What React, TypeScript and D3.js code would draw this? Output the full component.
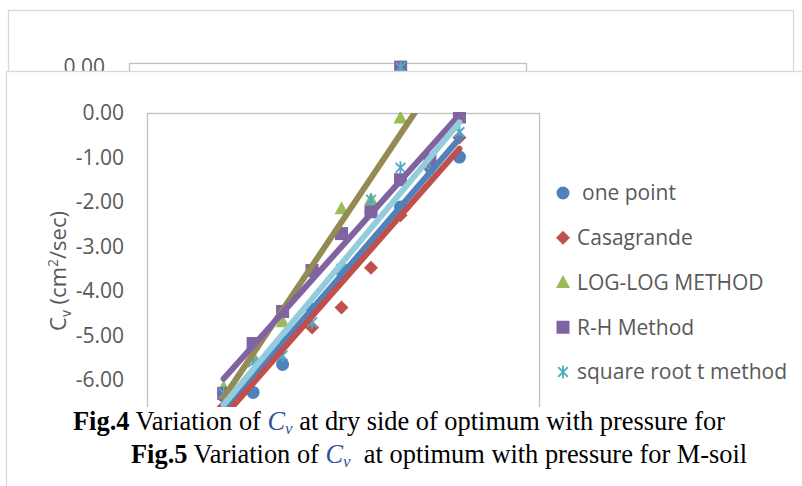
import React from "react";
import * as d3 from "d3";

// ---- data ----
const steps = [1, 2, 3, 4, 5, 6, 7, 8, 9];
const onePoint = [-6.36, -6.28, -5.65, -4.41, -3.55, -2.2, -2.11, -1.21, -0.99];
const casagrande = [-6.6, -5.89, -5.1, -4.82, -4.37, -3.48, -2.3, -1.21, -0.55];
const logLog = [-6.17, -5.47, -4.69, -3.5, -2.15, -1.95, -0.11, 0.55, 1.45];
const rhMethod = [-6.3, -5.18, -4.46, -3.54, -2.71, -2.22, -1.5, -1.05, -0.09];
const sqrtT = [-6.3, -5.6, -5.45, -4.7, -3.5, -1.95, -1.23, -1.29, -0.43];
const yTicks = [0, -1, -2, -3, -4, -5, -6];
const backSteps = [7.5];
const backRH = [-0.07];
const backSqrt = [-0.07];
const backTicks = [0];
const seriesNames = ["one point", "Casagrande", "LOG-LOG METHOD", "R-H Method", "square root t method"];

type Shape = "circle" | "diamond" | "triangle" | "square" | "asterisk";
const series: { name: string; values: number[]; marker: string; line: string; shape: Shape }[] = [
  { name: seriesNames[0], values: onePoint, marker: "#4F81BD", line: "#4F81BD", shape: "circle" },
  { name: seriesNames[1], values: casagrande, marker: "#C0504D", line: "#C0504D", shape: "diamond" },
  { name: seriesNames[2], values: logLog, marker: "#9BBB59", line: "#948A54", shape: "triangle" },
  { name: seriesNames[3], values: rhMethod, marker: "#8064A2", line: "#8064A2", shape: "square" },
  { name: seriesNames[4], values: sqrtT, marker: "#4BACC6", line: "#93CDDD", shape: "asterisk" },
];

function Marker({ shape, x, y, color }: { shape: Shape; x: number; y: number; color: string }) {
  switch (shape) {
    case "circle":
      return <circle cx={x} cy={y} r={6.5} fill={color} />;
    case "diamond":
      return <path d={`M${x},${y - 7}L${x + 7},${y}L${x},${y + 7}L${x - 7},${y}Z`} fill={color} />;
    case "triangle":
      return <path d={`M${x},${y - 7.5}L${x + 7},${y + 5.5}L${x - 7},${y + 5.5}Z`} fill={color} />;
    case "square":
      return <rect x={x - 6.5} y={y - 6.5} width={13} height={13} fill={color} />;
    case "asterisk": {
      const r = 6.5, d = r * 0.75;
      return (
        <path
          d={`M${x},${y - r}L${x},${y + r}M${x - d},${y - d}L${x + d},${y + d}M${x - d},${y + d}L${x + d},${y - d}`}
          stroke={color}
          strokeWidth={1.8}
          fill="none"
        />
      );
    }
  }
}

function regression(xs: number[], ys: number[]) {
  const mx = d3.mean(xs) as number;
  const my = d3.mean(ys) as number;
  let sxy = 0, sxx = 0;
  xs.forEach((x, i) => {
    sxy += (x - mx) * (ys[i] - my);
    sxx += (x - mx) * (x - mx);
  });
  const slope = sxy / sxx;
  return (x: number) => my + slope * (x - mx);
}

export default function App() {
  const W = 802, H = 486;
  const font = "'Open Sans', sans-serif";
  const serif = "'Liberation Serif', 'Times New Roman', serif";
  const grey = "#595959";

  // front chart
  const plot = { left: 147, right: 539, top: 113, bottom: 424.5 };
  const x = d3.scaleLinear().domain([-1.6, 11.7]).range([plot.left, plot.right]);
  const y = d3.scaleLinear().domain([-7, 0]).range([plot.bottom, plot.top]);

  // back chart
  const bplot = { left: 129, right: 526, top: 64 };
  const bx = d3.scaleLinear().domain([-1.6, 11.7]).range([bplot.left, bplot.right]);
  const by = d3.scaleLinear().domain([-7, 0]).range([bplot.top + 311.5, bplot.top]);

  const line = d3.line<[number, number]>().x((d) => x(d[0])).y((d) => y(d[1]));

  return (
    <svg width={W} height={H} style={{ position: "fixed", left: 0, top: 0, background: "#fff" }} fontFamily={font}>
      <defs>
        <clipPath id="plotClip">
          <rect x={plot.left} y={plot.top} width={plot.right - plot.left} height={plot.bottom - plot.top} />
        </clipPath>
        <clipPath id="markerClip">
          <rect x={plot.left - 10} y={plot.top - 1} width={plot.right - plot.left + 20} height={plot.bottom - plot.top + 10} />
        </clipPath>
        <clipPath id="backClip">
          <rect x={0} y={0} width={W} height={71} />
        </clipPath>
      </defs>
      <rect width={W} height={H} fill="#fff" />

      {/* back chart (mostly hidden) */}
      <g clipPath="url(#backClip)">
        <rect x={8.5} y={10.5} width={785} height={300} fill="#fff" stroke="#D9D9D9" strokeWidth={1.3} />
        <rect x={bplot.left + 0.5} y={bplot.top - 0.5} width={bplot.right - bplot.left} height={300} fill="none" stroke="#BFBFBF" strokeWidth={1.3} />
        {backTicks.map((t) => (
          <text key={t} x={105} y={by(t) + 3} dy="0.35em" textAnchor="end" fontSize={21} fill={grey}>
            {t.toFixed(2)}
          </text>
        ))}
        {backSteps.map((s, i) => (
          <g key={i}>
            <Marker shape="square" x={bx(s)} y={by(backRH[i])} color="#8064A2" />
            <Marker shape="asterisk" x={bx(s)} y={by(backSqrt[i])} color="#4BACC6" />
          </g>
        ))}
      </g>

      {/* front chart box */}
      <rect x={6.5} y={71.5} width={820} height={500} fill="#fff" stroke="#D9D9D9" strokeWidth={1.3} />
      <rect x={plot.left + 0.5} y={plot.top + 0.5} width={plot.right - plot.left} height={plot.bottom - plot.top} fill="none" stroke="#BFBFBF" strokeWidth={1.3} />

      {yTicks.map((t) => (
        <text key={t} x={124} y={y(t)} dy="0.35em" textAnchor="end" fontSize={21} fill={grey}>
          {t.toFixed(2)}
        </text>
      ))}

      <text transform={`translate(58,271) rotate(-90)`} textAnchor="middle" dy="0.35em" fontSize={22} fill={grey}>
        C<tspan fontSize={14} dy={5}>v</tspan>
        <tspan dy={-5}> (cm</tspan>
        <tspan fontSize={14} dy={-8}>2</tspan>
        <tspan dy={8}>/sec)</tspan>
      </text>

      {/* markers */}
      <g clipPath="url(#markerClip)">
        {series.map((s) => (
          <g key={s.name}>
            {s.values.map((v, i) => (
              <Marker key={i} shape={s.shape} x={x(steps[i])} y={y(v)} color={s.marker} />
            ))}
          </g>
        ))}
      </g>

      {/* linear trendlines */}
      <g clipPath="url(#plotClip)">
        {series.map((s) => {
          const f = regression(steps, s.values);
          const x0 = d3.min(steps) as number, x1 = d3.max(steps) as number;
          return (
            <path
              key={s.name}
              d={line([[x0, f(x0)], [x1, f(x1)]]) || ""}
              stroke={s.line}
              strokeWidth={6}
              strokeLinecap="round"
              fill="none"
            />
          );
        })}
      </g>

      {/* legend */}
      {series.map((s, i) => {
        const ly = 193 + i * 44.75;
        return (
          <g key={s.name}>
            <Marker shape={s.shape} x={563} y={ly} color={s.marker} />
            <text x={i === 0 ? 582 : 577} y={ly} dy="0.35em" fontSize={21} fill={grey}>
              {s.name}
            </text>
          </g>
        );
      })}

      {/* caption overlay */}
      <rect x={9.5} y={407} width={W} height={H - 407} fill="#fff" />
      <text x={73} y={430} fontFamily={serif} fontSize={26.4} fill="#000">
        <tspan fontWeight="bold">Fig.4</tspan>
        <tspan> Variation of </tspan>
        <tspan fill="#2F5597" fontStyle="italic">C</tspan>
        <tspan fill="#2F5597" fontStyle="italic" fontSize={17} dy={4}>v</tspan>
        <tspan dy={-4}> at dry side of optimum with pressure for</tspan>
      </text>
      <text x={131} y={463} fontFamily={serif} fontSize={26.4} fill="#000">
        <tspan fontWeight="bold">Fig.5</tspan>
        <tspan> Variation of </tspan>
        <tspan fill="#2F5597" fontStyle="italic">C</tspan>
        <tspan fill="#2F5597" fontStyle="italic" fontSize={17} dy={4}>v</tspan>
        <tspan dy={-4} style={{ whiteSpace: "pre" }}>  at optimum with pressure for M-soil</tspan>
      </text>
    </svg>
  );
}
